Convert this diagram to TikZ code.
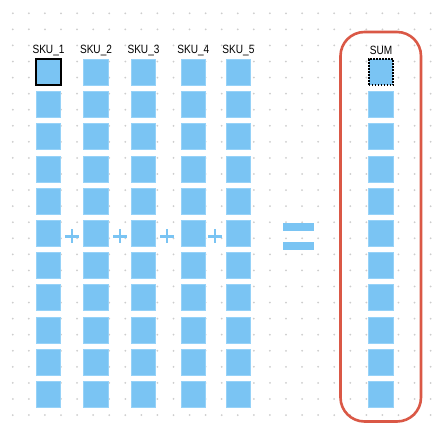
\documentclass[tikz,border=0pt]{standalone}
\usepackage{fontspec}
\usepackage{graphicx}
\setmainfont{Liberation Sans}
\definecolor{cellblue}{RGB}{122,196,243}
\definecolor{celledge}{RGB}{150,210,248}
\definecolor{griddot}{RGB}{205,205,205}
\definecolor{sumred}{RGB}{218,88,70}
\newcommand{\narrowlbl}[1]{\scalebox{0.84}[1]{#1}}
\begin{document}
\begin{tikzpicture}[x=1pt,y=-1pt,
  cell/.style={fill=cellblue,draw=celledge,line width=0.6pt,minimum width=24.5pt,minimum height=26pt,inner sep=0pt,outer sep=0pt},
  firstcell/.style={cell,draw=black,line width=1.8pt},
  sumcell/.style={cell,draw=black,line width=1.8pt,dash pattern=on 1.6pt off 1.4pt},
  lbl/.style={font=\fontsize{12}{14}\selectfont,text=black,inner sep=0pt},
  sign/.style={fill=cellblue}
]
\useasboundingbox (0,0) rectangle (442,430);
\fill[white] (0,0) rectangle (442,430);
% dot grid
\foreach \i in {0,...,26}{
  \foreach \j in {0,...,25}{
    \fill[griddot] ({12.8+16.07*\i},{13.3+16.07*\j}) circle (1pt);
  }
}
% red group box
\draw[sumred,line width=2.6pt,rounded corners=24pt] (340.5,32) rectangle (421,421.5);
% columns
\foreach \c/\x in {1/48.5,2/96,3/143.5,4/193.3,5/238.4}{
  \node[lbl] (lab\c) at (\x,50.7) {\narrowlbl{SKU\_\c}};
  \foreach \r in {0,...,10}{
    \ifnum\r=0
      \ifnum\c=1
        \node[firstcell] (c\c r\r) at (\x,{72.3+32.2*\r}) {};
      \else
        \node[cell] (c\c r\r) at (\x,{72.3+32.2*\r}) {};
      \fi
    \else
      \node[cell] (c\c r\r) at (\x,{72.3+32.2*\r}) {};
    \fi
  }
}
\node[lbl] (labsum) at (381,50.7) {\narrowlbl{SUM}};
\node[sumcell] (sr0) at (381,72.3) {};
\foreach \r in {1,...,10}{
  \node[cell] (sr\r) at (381,{72.3+32.2*\r}) {};
}
% plus signs
\foreach \px in {72,120,167,215}{
  \fill[sign] (\px-7,236.3-1.35) rectangle (\px+7,236.3+1.35);
  \fill[sign] (\px-1.35,236.3-7) rectangle (\px+1.35,236.3+7);
}
% equals sign
\fill[sign] (283,222.7) rectangle (314,230.7);
\fill[sign] (283,241.7) rectangle (314,249.7);
\end{tikzpicture}
\end{document}
